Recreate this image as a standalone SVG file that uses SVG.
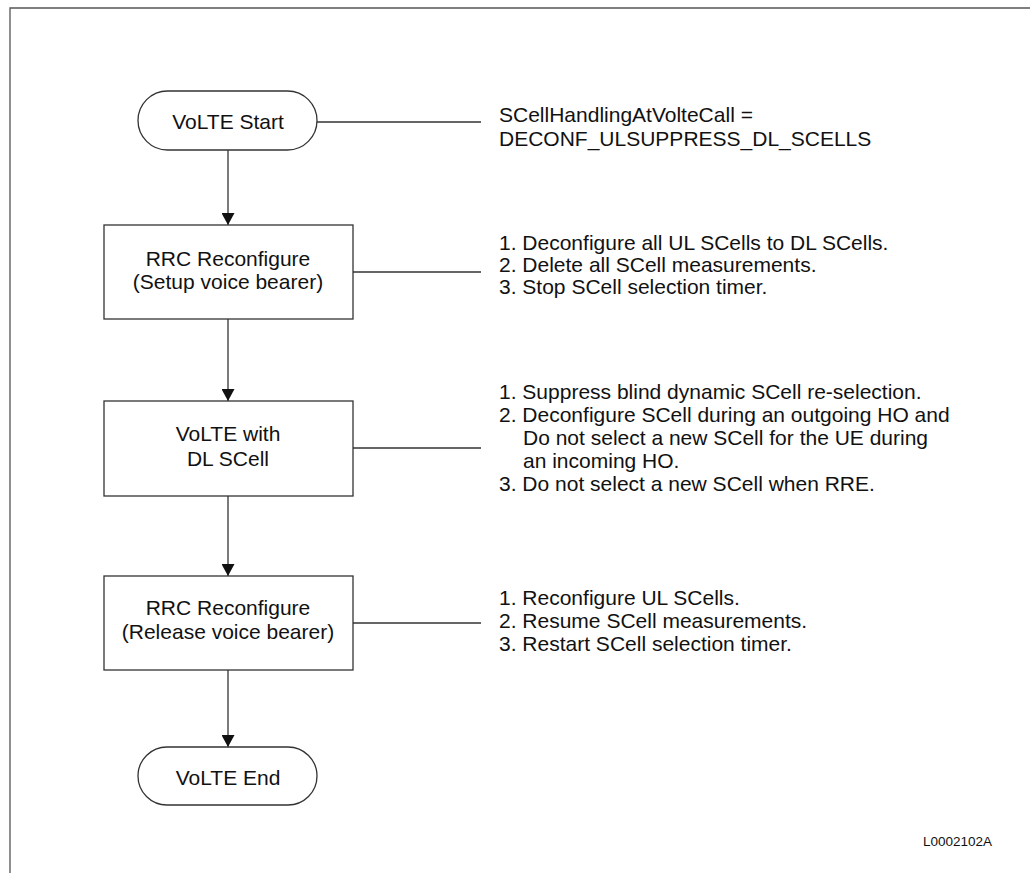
<svg xmlns="http://www.w3.org/2000/svg" width="1030" height="873" viewBox="0 0 1030 873">
<style>
  .frame { fill: none; stroke: #555; stroke-width: 1.3; }
  .node { fill: #fff; stroke: #333; stroke-width: 1.3; }
  .conn { fill: none; stroke: #333; stroke-width: 1.3; }
  text { font-family: "Liberation Sans", Arial, sans-serif; font-size: 21px; fill: #111; }
  .c { text-anchor: middle; }
  .code { font-size: 13.5px; }
</style>
<defs>
  <marker id="arr" viewBox="0 0 12 13" refX="12" refY="6.5" markerWidth="12" markerHeight="13" markerUnits="userSpaceOnUse" orient="auto">
    <path d="M0,0 L12,6.5 L0,13 Z" fill="#111"/>
  </marker>
</defs>
<rect width="1030" height="873" fill="#fff"/>
<path class="frame" d="M10,873 V8 H1030"/>

<g id="connectors">
  <line class="conn" x1="228" y1="150" x2="228" y2="225" marker-end="url(#arr)"/>
  <line class="conn" x1="228" y1="319" x2="228" y2="401" marker-end="url(#arr)"/>
  <line class="conn" x1="228" y1="496" x2="228" y2="576" marker-end="url(#arr)"/>
  <line class="conn" x1="228" y1="670" x2="228" y2="747" marker-end="url(#arr)"/>
  <line class="conn" x1="317" y1="122" x2="481" y2="122"/>
  <line class="conn" x1="353" y1="272" x2="481" y2="272"/>
  <line class="conn" x1="353" y1="448" x2="481" y2="448"/>
  <line class="conn" x1="353" y1="623" x2="481" y2="623"/>
</g>

<g id="volte-start">
  <rect class="node" x="138" y="91" width="179" height="59" rx="29.5"/>
  <text class="c" x="228" y="129">VoLTE Start</text>
</g>
<g id="rrc-setup">
  <rect class="node" x="104" y="225" width="249" height="94"/>
  <text class="c" x="228" y="266">RRC Reconfigure</text>
  <text class="c" x="228" y="289">(Setup voice bearer)</text>
</g>
<g id="volte-dl-scell">
  <rect class="node" x="104" y="401" width="249" height="95"/>
  <text class="c" x="228" y="441">VoLTE with</text>
  <text class="c" x="228" y="466">DL SCell</text>
</g>
<g id="rrc-release">
  <rect class="node" x="104" y="576" width="249" height="94"/>
  <text class="c" x="228" y="615">RRC Reconfigure</text>
  <text class="c" x="228" y="639">(Release voice bearer)</text>
</g>
<g id="volte-end">
  <rect class="node" x="138" y="747" width="179" height="58" rx="29"/>
  <text class="c" x="228" y="785">VoLTE End</text>
</g>

<g id="note-start">
  <text x="499" y="122">SCellHandlingAtVolteCall =</text>
  <text x="499" y="146">DECONF_ULSUPPRESS_DL_SCELLS</text>
</g>
<g id="note-setup">
  <text x="499" y="250">1. Deconfigure all UL SCells to DL SCells.</text>
  <text x="499" y="272">2. Delete all SCell measurements.</text>
  <text x="499" y="294">3. Stop SCell selection timer.</text>
</g>
<g id="note-dl">
  <text x="499" y="399">1. Suppress blind dynamic SCell re-selection.</text>
  <text x="499" y="422">2. Deconfigure SCell during an outgoing HO and</text>
  <text x="523" y="445">Do not select a new SCell for the UE during</text>
  <text x="523" y="468">an incoming HO.</text>
  <text x="499" y="491">3. Do not select a new SCell when RRE.</text>
</g>
<g id="note-release">
  <text x="499" y="605">1. Reconfigure UL SCells.</text>
  <text x="499" y="628">2. Resume SCell measurements.</text>
  <text x="499" y="651">3. Restart SCell selection timer.</text>
</g>
<text class="code" x="923" y="846">L0002102A</text>
</svg>
